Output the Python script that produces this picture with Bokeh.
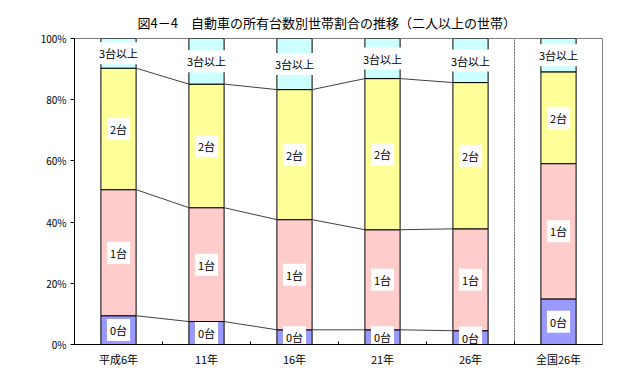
from bokeh.plotting import figure
from bokeh.models import ColumnDataSource, FixedTicker, Range1d, Title
from bokeh.core.properties import value
from bokeh.embed import file_html
from bokeh.resources import INLINE

# ---- data ----
categories = ["平成6年", "11年", "16年", "21年", "26年", "全国26年"]
series_names = ["0台", "1台", "2台", "3台以上"]
share_0 = [9.4, 7.5, 4.8, 4.8, 4.5, 14.9]
share_1 = [41.2, 37.2, 36.0, 32.7, 33.3, 44.2]
share_2 = [39.7, 40.4, 42.5, 49.4, 47.8, 30.0]
share_3 = [9.7, 14.9, 16.7, 13.1, 14.4, 10.9]
trend_count = 5  # first five bars are the time series; last is national
y_ticks = [0, 20, 40, 60, 80, 100]
y_tick_labels = ["0%", "20%", "40%", "60%", "80%", "100%"]
title_text = "図4－4　自動車の所有台数別世帯割合の推移（二人以上の世帯）"

colors = ["#9999FF", "#FFCCCC", "#FFFF99", "#CCFFFF"]
FONT = "Noto Sans CJK JP"
BAR_W = 0.4

series = [share_0, share_1, share_2, share_3]
n = len(categories)
xs = [i + 0.5 for i in range(n)]

# cumulative stacks
bottoms, tops = [], []
acc = [0.0] * n
for s in series:
    b = acc[:]
    acc = [a + v for a, v in zip(acc, s)]
    bottoms.append(b)
    tops.append(acc[:])

p = figure(width=614, height=378, output_backend="svg", toolbar_location=None,
           x_range=Range1d(0, n), y_range=Range1d(0, 100),
           min_border_left=74, min_border_right=12, min_border_top=38, min_border_bottom=34)
p.background_fill_color = "white"
p.border_fill_color = "white"
p.outline_line_color = "#808080"
p.grid.visible = False

p.title = Title(text=title_text, align="left", offset=63, standoff=13,
                text_font=FONT, text_font_size="13px", text_font_style="normal",
                text_color="black")

# bars
for k in range(len(series)):
    src = ColumnDataSource(dict(x=xs, bottom=bottoms[k], top=tops[k]))
    p.vbar(x="x", width=BAR_W, bottom="bottom", top="top", source=src,
           fill_color=colors[k], line_color="black", line_width=1)

# connector lines between trend bars
for k in range(3):
    x0 = [xs[i] + BAR_W / 2 for i in range(trend_count - 1)]
    x1 = [xs[i + 1] - BAR_W / 2 for i in range(trend_count - 1)]
    y0 = [tops[k][i] for i in range(trend_count - 1)]
    y1 = [tops[k][i + 1] for i in range(trend_count - 1)]
    p.segment(x0=x0, y0=y0, x1=x1, y1=y1, line_color="#404040", line_width=1)

# separator
p.segment(x0=[trend_count], y0=[0], x1=[trend_count], y1=[100],
          line_color="#606060", line_width=1, line_dash="2 1")

# segment labels
for k in range(len(series)):
    ly = [(b + t) / 2 for b, t in zip(bottoms[k], tops[k])]
    src = ColumnDataSource(dict(x=xs, y=ly, t=[series_names[k]] * n))
    p.text(x="x", y="y", text="t", source=src, text_align="center",
           text_baseline="middle", text_font=value(FONT), text_font_size="11px",
           text_color="black", background_fill_color="white", padding=3)

# axes
p.xaxis.ticker = FixedTicker(ticks=xs, minor_ticks=[1, 2, 3, 4, 5])
p.xaxis.major_label_overrides = {x: c for x, c in zip(xs, categories)}
p.xaxis.major_tick_in = 0
p.xaxis.major_tick_out = 0
p.xaxis.minor_tick_in = 3
p.xaxis.minor_tick_out = 0
p.xaxis.minor_tick_line_color = "black"
p.xaxis.major_label_standoff = 6
p.xaxis.axis_line_color = "black"
p.xaxis.major_label_text_font_size = "11px"

p.yaxis.ticker = FixedTicker(ticks=y_ticks, minor_ticks=[])
p.yaxis.major_label_overrides = {t: l for t, l in zip(y_ticks, y_tick_labels)}
p.yaxis.major_tick_in = 0
p.yaxis.major_tick_out = 4
p.yaxis.major_label_standoff = 4
p.yaxis.axis_line_color = "black"
p.yaxis.major_label_text_font_size = "10px"

for ax in (p.xaxis, p.yaxis):
    ax.major_label_text_font = FONT
    ax.major_label_text_color = "black"

open("out.html", "w").write(file_html(p, INLINE))
